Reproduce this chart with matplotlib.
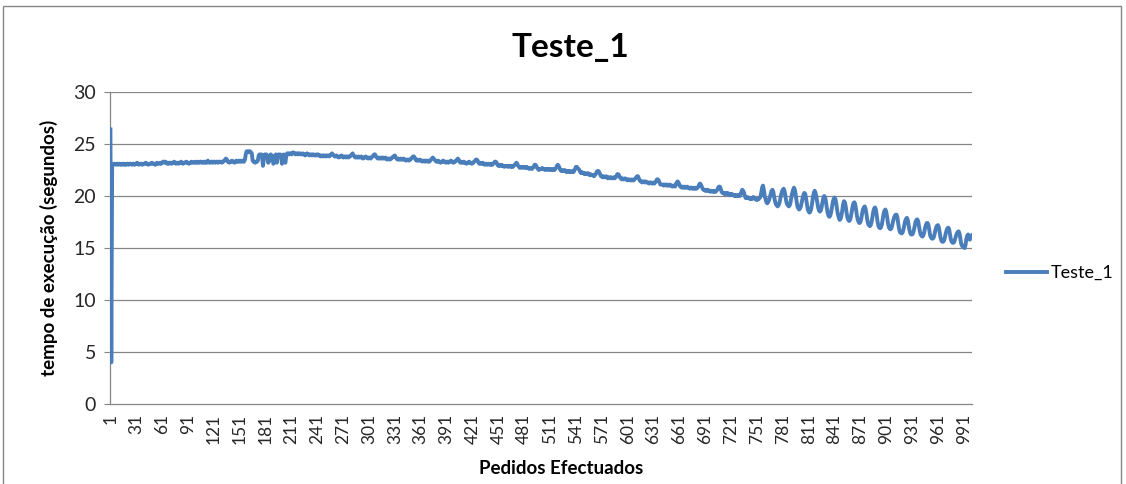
import matplotlib
matplotlib.use("Agg")
import matplotlib.pyplot as plt
from matplotlib.patches import Rectangle

# ---------------- data ----------------
title = "Teste_1"
series_name = "Teste_1"
x_label = "Pedidos Efectuados"
y_label = "tempo de execução (segundos)"
y_ticks = [0, 5, 10, 15, 20, 25, 30]
x_tick_step = 30

tempo_001_100 = [
    26.4, 4.0, 23.1, 23.0, 23.1, 23.1, 23.0, 23.1, 23.1, 23.0, 23.1, 23.1, 23.0, 23.0, 23.1, 23.1, 23.0, 23.1, 23.0, 23.1,
    23.1, 23.0, 23.1, 23.1, 23.1, 23.0, 23.1, 23.1, 23.0, 23.1, 23.1, 23.2, 23.1, 23.0, 23.1, 23.1, 23.1, 23.0, 23.1, 23.1,
    23.1, 23.2, 23.1, 23.1, 23.0, 23.1, 23.1, 23.1, 23.2, 23.1, 23.1, 23.1, 23.0, 23.1, 23.2, 23.1, 23.1, 23.1, 23.2, 23.1,
    23.2, 23.3, 23.3, 23.2, 23.3, 23.2, 23.1, 23.2, 23.1, 23.2, 23.2, 23.1, 23.2, 23.2, 23.3, 23.2, 23.1, 23.2, 23.2, 23.1,
    23.2, 23.2, 23.3, 23.2, 23.1, 23.2, 23.2, 23.2, 23.3, 23.2, 23.2, 23.1, 23.2, 23.2, 23.3, 23.2, 23.2, 23.2, 23.3, 23.2,
]
tempo_101_200 = [
    23.2, 23.3, 23.2, 23.2, 23.3, 23.3, 23.2, 23.2, 23.3, 23.2, 23.3, 23.2, 23.2, 23.4, 23.3, 23.2, 23.2, 23.3, 23.3, 23.2,
    23.3, 23.3, 23.2, 23.3, 23.3, 23.2, 23.3, 23.3, 23.3, 23.2, 23.3, 23.3, 23.4, 23.5, 23.6, 23.5, 23.3, 23.3, 23.2, 23.3,
    23.3, 23.4, 23.3, 23.3, 23.2, 23.3, 23.4, 23.3, 23.3, 23.4, 23.3, 23.3, 23.4, 23.3, 23.4, 23.3, 23.5, 24.0, 24.3, 24.3,
    24.3, 24.2, 24.3, 24.2, 24.1, 23.4, 23.3, 23.3, 23.2, 23.3, 23.3, 23.4, 23.9, 24.0, 23.9, 24.0, 23.7, 22.9, 23.6, 24.0,
    23.9, 24.0, 23.8, 23.2, 23.3, 23.9, 24.0, 23.9, 23.7, 23.1, 23.2, 23.9, 24.0, 23.2, 23.8, 24.0, 23.9, 24.0, 23.8, 23.1,
]
tempo_201_300 = [
    23.8, 24.0, 23.3, 23.2, 23.9, 24.1, 24.1, 24.0, 24.1, 24.1, 24.0, 24.1, 24.2, 24.1, 24.1, 24.0, 24.1, 24.1, 24.0, 24.1,
    24.1, 24.0, 24.0, 24.1, 24.0, 24.0, 23.9, 24.0, 24.1, 24.0, 24.0, 23.9, 24.0, 24.0, 23.9, 24.0, 24.0, 23.9, 23.9, 24.0,
    23.9, 24.0, 23.9, 23.9, 23.8, 23.9, 23.9, 23.8, 23.9, 23.9, 23.8, 23.9, 23.9, 23.9, 23.8, 23.9, 24.0, 24.1, 24.0, 23.9,
    23.8, 23.8, 23.9, 23.8, 23.8, 23.7, 23.8, 23.8, 23.9, 23.8, 23.7, 23.8, 23.8, 23.7, 23.8, 23.8, 23.7, 23.8, 23.8, 23.9,
    24.0, 24.1, 23.9, 23.8, 23.7, 23.8, 23.7, 23.7, 23.8, 23.7, 23.7, 23.8, 23.7, 23.6, 23.7, 23.7, 23.8, 23.7, 23.7, 23.6,
]
tempo_301_400 = [
    23.7, 23.7, 23.6, 23.7, 23.8, 23.9, 24.0, 24.0, 23.8, 23.7, 23.6, 23.7, 23.6, 23.6, 23.7, 23.6, 23.7, 23.6, 23.6, 23.7,
    23.6, 23.5, 23.6, 23.6, 23.5, 23.6, 23.6, 23.7, 23.8, 23.8, 23.9, 23.7, 23.6, 23.5, 23.6, 23.5, 23.5, 23.6, 23.5, 23.5,
    23.6, 23.5, 23.5, 23.4, 23.5, 23.5, 23.4, 23.5, 23.5, 23.6, 23.7, 23.8, 23.8, 23.7, 23.5, 23.4, 23.5, 23.4, 23.4, 23.5,
    23.4, 23.4, 23.3, 23.4, 23.4, 23.3, 23.4, 23.4, 23.3, 23.4, 23.3, 23.4, 23.5, 23.6, 23.7, 23.6, 23.5, 23.4, 23.3, 23.3,
    23.4, 23.3, 23.3, 23.2, 23.3, 23.3, 23.4, 23.3, 23.3, 23.2, 23.3, 23.3, 23.2, 23.3, 23.3, 23.4, 23.3, 23.3, 23.2, 23.3,
]
tempo_401_500 = [
    23.3, 23.4, 23.5, 23.6, 23.5, 23.3, 23.2, 23.3, 23.2, 23.2, 23.3, 23.2, 23.2, 23.1, 23.2, 23.2, 23.3, 23.2, 23.2, 23.1,
    23.2, 23.2, 23.3, 23.4, 23.5, 23.5, 23.4, 23.2, 23.1, 23.2, 23.1, 23.1, 23.2, 23.1, 23.0, 23.1, 23.1, 23.0, 23.1, 23.1,
    23.0, 23.0, 23.1, 23.0, 23.1, 23.2, 23.3, 23.3, 23.2, 23.0, 22.9, 23.0, 22.9, 22.9, 23.0, 22.9, 22.9, 22.8, 22.9, 22.9,
    22.9, 22.8, 22.9, 22.9, 22.8, 22.9, 22.8, 22.8, 22.9, 23.0, 23.1, 23.2, 23.1, 22.9, 22.8, 22.7, 22.8, 22.8, 22.7, 22.8,
    22.8, 22.7, 22.7, 22.8, 22.7, 22.7, 22.6, 22.7, 22.7, 22.6, 22.7, 22.8, 23.0, 23.0, 22.9, 22.7, 22.6, 22.5, 22.6, 22.6,
]
tempo_501_600 = [
    22.6, 22.7, 22.6, 22.6, 22.5, 22.6, 22.6, 22.5, 22.6, 22.6, 22.5, 22.6, 22.5, 22.5, 22.6, 22.5, 22.6, 22.7, 22.9, 23.0,
    22.9, 22.7, 22.5, 22.4, 22.5, 22.4, 22.4, 22.5, 22.4, 22.3, 22.4, 22.4, 22.3, 22.4, 22.3, 22.3, 22.4, 22.3, 22.4, 22.6,
    22.8, 22.8, 22.7, 22.6, 22.5, 22.3, 22.2, 22.3, 22.2, 22.2, 22.1, 22.2, 22.1, 22.1, 22.2, 22.1, 22.0, 22.1, 22.0, 22.0,
    22.0, 21.9, 22.0, 22.1, 22.3, 22.4, 22.4, 22.3, 22.1, 21.9, 21.9, 21.8, 21.9, 21.8, 21.8, 21.9, 21.8, 21.7, 21.8, 21.8,
    21.7, 21.8, 21.7, 21.7, 21.8, 21.7, 21.8, 21.9, 22.1, 22.1, 22.0, 21.8, 21.7, 21.6, 21.7, 21.6, 21.6, 21.7, 21.6, 21.6,
]
tempo_601_700 = [
    21.5, 21.6, 21.6, 21.5, 21.5, 21.6, 21.5, 21.5, 21.6, 21.7, 21.8, 21.9, 21.9, 21.7, 21.5, 21.4, 21.4, 21.3, 21.4, 21.4,
    21.3, 21.4, 21.3, 21.3, 21.3, 21.2, 21.3, 21.3, 21.2, 21.2, 21.3, 21.2, 21.3, 21.4, 21.6, 21.6, 21.5, 21.3, 21.1, 21.1,
    21.1, 21.1, 21.0, 21.1, 21.1, 21.0, 21.1, 21.0, 21.0, 21.1, 21.0, 21.0, 20.9, 21.0, 21.0, 20.9, 21.1, 21.3, 21.4, 21.3,
    21.1, 20.9, 20.9, 20.8, 20.9, 20.8, 20.9, 20.8, 20.8, 20.9, 20.8, 20.8, 20.7, 20.8, 20.8, 20.7, 20.8, 20.7, 20.7, 20.8,
    20.7, 20.8, 20.9, 21.1, 21.2, 21.1, 20.9, 20.7, 20.6, 20.6, 20.5, 20.6, 20.5, 20.6, 20.5, 20.5, 20.4, 20.5, 20.5, 20.4,
]
tempo_701_800 = [
    20.5, 20.4, 20.4, 20.5, 20.6, 20.8, 20.9, 20.9, 20.7, 20.4, 20.3, 20.3, 20.2, 20.3, 20.2, 20.2, 20.3, 20.2, 20.1, 20.2,
    20.1, 20.2, 20.1, 20.1, 20.0, 20.1, 20.0, 20.0, 20.1, 20.0, 20.0, 20.2, 20.4, 20.6, 20.5, 20.3, 20.0, 19.8, 19.8, 19.9,
    19.8, 19.8, 19.7, 19.8, 19.7, 19.8, 19.9, 19.8, 19.7, 19.7, 19.6, 19.7, 19.7, 19.8, 19.9, 20.3, 20.8, 21.0, 20.6, 20.0,
    19.7, 19.4, 19.3, 19.4, 19.6, 19.9, 20.2, 20.5, 20.6, 20.4, 19.9, 19.5, 19.2, 19.1, 19.0, 19.1, 19.3, 19.7, 20.1, 20.4,
    20.6, 20.7, 20.5, 20.0, 19.5, 19.2, 19.1, 19.0, 19.1, 19.4, 19.9, 20.3, 20.6, 20.8, 20.6, 20.1, 19.5, 19.0, 18.8, 18.7,
]
tempo_801_900 = [
    18.8, 19.0, 19.4, 19.8, 20.1, 20.3, 20.2, 19.8, 19.2, 18.7, 18.5, 18.4, 18.5, 18.8, 19.3, 19.9, 20.3, 20.5, 20.3, 19.9,
    19.4, 18.9, 18.6, 18.5, 18.6, 18.9, 19.4, 19.8, 20.0, 19.9, 19.5, 18.9, 18.4, 18.1, 18.0, 18.1, 18.4, 18.9, 19.4, 19.7,
    19.85, 19.7, 19.3, 18.7, 18.2, 17.9, 17.7, 17.8, 18.1, 18.6, 19.2, 19.5, 19.4, 19.0, 18.4, 17.9, 17.7, 17.6, 17.7, 18.0,
    18.5, 19.0, 19.3, 19.4, 19.2, 18.7, 18.1, 17.7, 17.5, 17.4, 17.5, 17.8, 18.3, 18.7, 18.9, 19.0, 18.8, 18.3, 17.7, 17.3,
    17.2, 17.1, 17.2, 17.5, 18.0, 18.5, 18.8, 18.9, 18.7, 18.1, 17.5, 17.1, 16.95, 16.9, 17.0, 17.3, 17.8, 18.3, 18.6, 18.7,
]
tempo_901_1000 = [
    18.5, 18.0, 17.4, 17.0, 16.85, 16.8, 16.9, 17.2, 17.6, 17.9, 18.1, 18.2, 18.2, 17.9, 17.3, 16.8, 16.5, 16.45, 16.4, 16.5,
    16.8, 17.2, 17.6, 17.8, 17.9, 17.7, 17.2, 16.7, 16.4, 16.3, 16.3, 16.4, 16.7, 17.1, 17.5, 17.7, 17.75, 17.6, 17.1, 16.6,
    16.3, 16.15, 16.1, 16.2, 16.5, 16.9, 17.2, 17.4, 17.4, 17.2, 16.7, 16.2, 16.0, 15.9, 15.9, 16.0, 16.3, 16.7, 17.0, 17.15,
    17.2, 17.0, 16.5, 16.0, 15.7, 15.6, 15.6, 15.7, 16.0, 16.4, 16.7, 16.9, 16.95, 16.8, 16.3, 15.8, 15.6, 15.5, 15.5, 15.6,
    15.9, 16.2, 16.4, 16.55, 16.6, 16.4, 15.9, 15.4, 15.2, 15.1, 15.1, 15.0, 15.3, 15.9, 16.2, 16.3, 16.0, 15.8, 16.1, 16.2,
]

chunks = [tempo_001_100, tempo_101_200, tempo_201_300, tempo_301_400, tempo_401_500,
          tempo_501_600, tempo_601_700, tempo_701_800, tempo_801_900, tempo_901_1000]
tempos = [v for c in chunks for v in c]
assert len(tempos) == 1000, [len(c) for c in chunks]
pedidos = list(range(1, len(tempos) + 1))

# ---------------- styling ----------------
plt.rcParams['font.family'] = ['Lato', 'DejaVu Sans']
W, H = 1126, 484
fig = plt.figure(figsize=(W / 100, H / 100), dpi=100)

# chart border
fig.patches.append(Rectangle((3 / W, -0.05), (1121 - 3) / W, 1.05 - 6 / H,
                             transform=fig.transFigure, fill=False,
                             edgecolor='#868686', linewidth=1.0))

L, R, T, B = 110, 972, 92, 404
ax = fig.add_axes([L / W, 1 - B / H, (R - L) / W, (B - T) / H])

line_color = '#4A7EBB'
grid_color = '#868686'
ax.plot(pedidos, tempos, color=line_color, linewidth=2.8, label=series_name,
        solid_joinstyle='round', zorder=3)

ax.set_xlim(0.5, len(tempos) + 0.5)
ax.set_ylim(0, 30)
ax.set_yticks(y_ticks)
ax.set_yticklabels([str(v) for v in y_ticks])
for v in y_ticks[1:]:
    ax.axhline(v, color=grid_color, linewidth=0.9, zorder=1)

xt = pedidos[::x_tick_step]
ax.set_xticks(xt)
ax.set_xticklabels([str(v) for v in xt], rotation=90)

for s in ['top', 'right']:
    ax.spines[s].set_visible(False)
for s in ['left', 'bottom']:
    ax.spines[s].set_color(grid_color)
    ax.spines[s].set_linewidth(0.9)

ax.tick_params(axis='y', length=4, color=grid_color, labelsize=14,
               labelcolor='#262626', pad=6)
ax.tick_params(axis='x', length=0, labelsize=12.5, labelcolor='#262626', pad=7)

ax.set_ylabel(y_label, fontsize=13.5, fontweight='bold', labelpad=11)
fig.text(561 / W, 1 - 468 / H, x_label, fontsize=13.5, fontweight='bold',
         ha='center', va='center')
fig.text(570 / W, 1 - 47 / H, title, fontsize=24, fontweight='bold',
         ha='center', va='center')

ax.legend(loc='center left', bbox_to_anchor=(1.031, 0.42), frameon=False,
          fontsize=13, handlelength=2.3, handletextpad=0.2, borderaxespad=0)

fig.savefig('out.png', dpi=100)
